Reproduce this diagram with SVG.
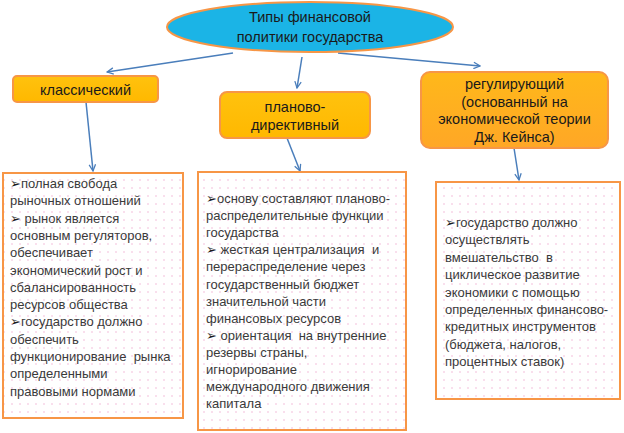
<svg xmlns="http://www.w3.org/2000/svg" width="624" height="433" viewBox="0 0 624 433">
<defs>
<pattern id="dots" width="8" height="8" patternUnits="userSpaceOnUse">
<rect width="8" height="8" fill="#ffffff"/>
<circle cx="4" cy="4" r="0.8" fill="#f2b8d8"/>
</pattern>
<linearGradient id="yel" x1="0" y1="0" x2="0" y2="1">
<stop offset="0" stop-color="#ffc20e"/>
<stop offset="1" stop-color="#ffb800"/>
</linearGradient>
<linearGradient id="org" x1="0" y1="0" x2="0" y2="1">
<stop offset="0" stop-color="#ffb81a"/>
<stop offset="1" stop-color="#ffa726"/>
</linearGradient>
<marker id="arr" viewBox="0 0 10 10" refX="9" refY="5" markerWidth="8" markerHeight="8" orient="auto" markerUnits="userSpaceOnUse">
<path d="M1,1 L9,5 L1,9" fill="none" stroke="#4a7ebb" stroke-width="1.6"/>
</marker>
</defs>
<style>
.hdr{fill:#1bb4e6;stroke:#f79646;stroke-width:2}
.type{stroke:#f79646;stroke-width:2}
.desc{fill:url(#dots);stroke:#f79646;stroke-width:2}
.t{font-family:"Liberation Sans","DejaVu Sans",sans-serif;font-size:14.5px;fill:#1a1a1a;text-anchor:middle}
.b{font-family:"Liberation Sans","DejaVu Sans",sans-serif;font-size:13px;fill:#3a3a3a;white-space:pre}
.m{font-family:"DejaVu Sans",sans-serif;font-size:13px;fill:#1a1a1a}
.c{fill:none;stroke:#4a7ebb;stroke-width:1.5;marker-end:url(#arr)}
</style>
<g id="connectors">
<line class="c" x1="233" y1="53" x2="107" y2="72"/>
<line class="c" x1="302" y1="57" x2="297" y2="88"/>
<line class="c" x1="338" y1="53" x2="480" y2="66"/>
<line class="c" x1="86" y1="102" x2="93" y2="171"/>
<line class="c" x1="287" y1="138" x2="300" y2="171"/>
<line class="c" x1="514" y1="148" x2="519" y2="180"/>
</g>
<g id="root">
<ellipse class="hdr" cx="310" cy="27" rx="143" ry="25"/>
<text class="t" x="310" y="22">Типы финансовой</text>
<text class="t" x="310" y="42">политики государства</text>
</g>
<g id="classic">
<rect class="type" x="13" y="76" width="145" height="26" rx="4" fill="url(#yel)"/>
<text class="t" x="85.5" y="95">классический</text>
</g>
<g id="planned">
<rect class="type" x="220" y="92" width="150" height="46" rx="7" fill="url(#yel)"/>
<text class="t" x="295" y="112">планово-</text>
<text class="t" x="295" y="130">директивный</text>
</g>
<g id="regulating">
<rect class="type" x="421" y="72" width="187" height="76" rx="9" fill="url(#org)"/>
<text class="t" x="514.5" y="89">регулирующий</text>
<text class="t" x="514.5" y="106.5">(основанный на</text>
<text class="t" x="514.5" y="124">экономической теории</text>
<text class="t" x="514.5" y="141.5">Дж. Кейнса)</text>
</g>
<g id="classic-desc">
<rect class="desc" x="3" y="173" width="180" height="245"/>
<text class="b" x="10" y="188" xml:space="preserve"><tspan x="10" y="188"><tspan class="m">➢</tspan>полная свобода</tspan><tspan x="10" dy="17.3">рыночных отношений</tspan><tspan x="10" dy="17.3"><tspan class="m">➢</tspan> рынок является</tspan><tspan x="10" dy="17.3">основным регуляторов,</tspan><tspan x="10" dy="17.3">обеспечивает</tspan><tspan x="10" dy="17.3">экономический рост и</tspan><tspan x="10" dy="17.3">сбалансированность</tspan><tspan x="10" dy="17.3">ресурсов общества</tspan><tspan x="10" dy="17.3"><tspan class="m">➢</tspan>государство должно</tspan><tspan x="10" dy="17.3">обеспечить</tspan><tspan x="10" dy="17.3">функционирование  рынка</tspan><tspan x="10" dy="17.3">определенными</tspan><tspan x="10" dy="17.3">правовыми нормами</tspan></text>
</g>
<g id="planned-desc">
<rect class="desc" x="198" y="172" width="208" height="258"/>
<text class="b" x="206" y="203" xml:space="preserve"><tspan x="206" y="203"><tspan class="m">➢</tspan>основу составляют планово-</tspan><tspan x="206" dy="17.1">распределительные функции</tspan><tspan x="206" dy="17.1">государства</tspan><tspan x="206" dy="17.1"><tspan class="m">➢</tspan> жесткая централизация  и</tspan><tspan x="206" dy="17.1">перераспределение через</tspan><tspan x="206" dy="17.1">государственный бюджет</tspan><tspan x="206" dy="17.1">значительной части</tspan><tspan x="206" dy="17.1">финансовых ресурсов</tspan><tspan x="206" dy="17.1"><tspan class="m">➢</tspan> ориентация  на внутренние</tspan><tspan x="206" dy="17.1">резервы страны,</tspan><tspan x="206" dy="17.1">игнорирование</tspan><tspan x="206" dy="17.1">международного движения</tspan><tspan x="206" dy="17.1">капитала</tspan></text>
</g>
<g id="regulating-desc">
<rect class="desc" x="436" y="182" width="184" height="217"/>
<text class="b" x="445" y="227" xml:space="preserve"><tspan x="445" y="227"><tspan class="m">➢</tspan>государство должно</tspan><tspan x="445" dy="17.4">осуществлять</tspan><tspan x="445" dy="17.4">вмешательство  в</tspan><tspan x="445" dy="17.4">циклическое развитие</tspan><tspan x="445" dy="17.4">экономики с помощью</tspan><tspan x="445" dy="17.4">определенных финансово-</tspan><tspan x="445" dy="17.4">кредитных инструментов</tspan><tspan x="445" dy="17.4">(бюджета, налогов,</tspan><tspan x="445" dy="17.4">процентных ставок)</tspan></text>
</g>
</svg>
